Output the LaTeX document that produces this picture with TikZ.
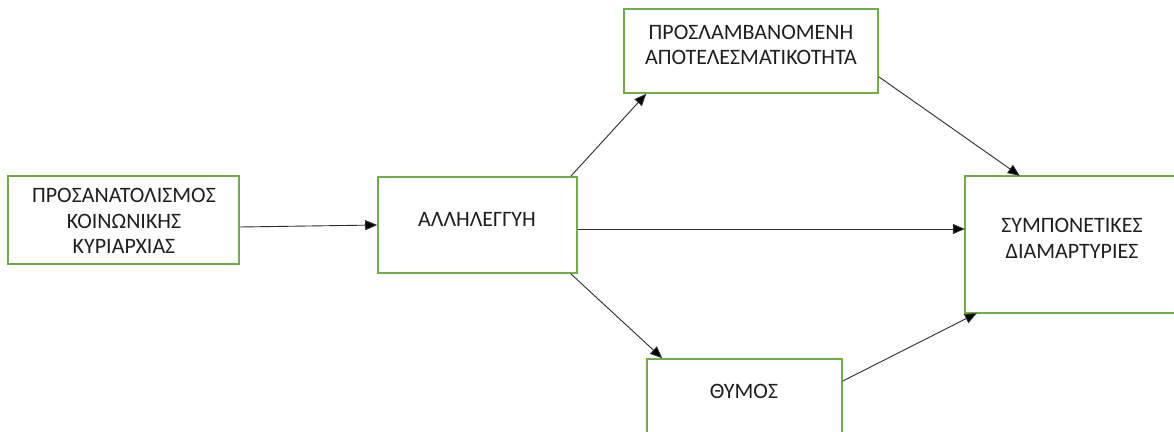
\documentclass[tikz,border=0pt]{standalone}
\usepackage{fontspec}
\setmainfont{Carlito}
\usetikzlibrary{arrows.meta,calc}
\definecolor{boxgreen}{RGB}{112,173,71}
\definecolor{linegray}{RGB}{45,45,45}
\tikzset{
  box/.style={draw=boxgreen, line width=1.6pt, fill=white, rectangle, inner sep=0pt},
  boxline/.style={draw=boxgreen, line width=1.6pt},
  txt/.style={align=center, font=\fontsize{22}{25.5}\selectfont, text=black!88, inner sep=0pt},
  conn/.style={draw=linegray, line width=0.9pt, -{Triangle[length=12pt,width=10pt,fill=black]}}
}
\begin{document}
\begin{tikzpicture}[x=1pt,y=-1pt]
\useasboundingbox (0,0) rectangle (1174,431);
\clip (0,0) rectangle (1174,431);
\fill[white] (0,0) rectangle (1174,431);
\node[box, minimum width=231pt, minimum height=88pt] (b1) at (123.5,220) {};
\node[txt] (t1) at (124,221) {ΠΡΟΣΑΝΑΤΟΛΙΣΜΟΣ\\ΚΟΙΝΩΝΙΚΗΣ\\ΚΥΡΙΑΡΧΙΑΣ};
\node[box, minimum width=199pt, minimum height=96pt] (b2) at (477.5,225) {};
\node[txt] (t2) at (477,219) {ΑΛΛΗΛΕΓΓΥΗ};
\node[box, minimum width=254pt, minimum height=84pt] (b3) at (751,51) {};
\node[txt] (t3) at (751,45) {ΠΡΟΣΛΑΜΒΑΝΟΜΕΝΗ\\ΑΠΟΤΕΛΕΣΜΑΤΙΚΟΤΗΤΑ};
\node[box, minimum width=195pt, minimum height=86pt] (b4) at (744.5,402) {};
\node[txt] (t4) at (744,391) {ΘΥΜΟΣ};
\node[inner sep=0pt, minimum width=250pt, minimum height=137pt] (b5) at (1090,244.5) {};
\draw[boxline] (b5.north east) -- (b5.north west) -- (b5.south west) -- (b5.south east);
\node[txt] (t5) at (1072,238.5) {ΣΥΜΠΟΝΕΤΙΚΕΣ\\ΔΙΑΜΑΡΤΥΡΙΕΣ};
\draw[conn] ($(b1.east)+(0,7)$) -- (b2.west);
\draw[conn] ($(b2.north east)+(-7,0)$) -- ($(b3.south west)+(23,0)$);
\draw[conn] ($(b3.south east)+(0,-17)$) -- ($(b5.north west)+(55,0)$);
\draw[conn] ($(b2.east)+(0,4)$) -- ($(b5.west)+(0,-15.5)$);
\draw[conn] ($(b2.south east)+(-7,0)$) -- ($(b4.north west)+(16,0)$);
\draw[conn] ($(b4.east)+(0,-21)$) -- ($(b5.south west)+(12,0)$);
\end{tikzpicture}
\end{document}
